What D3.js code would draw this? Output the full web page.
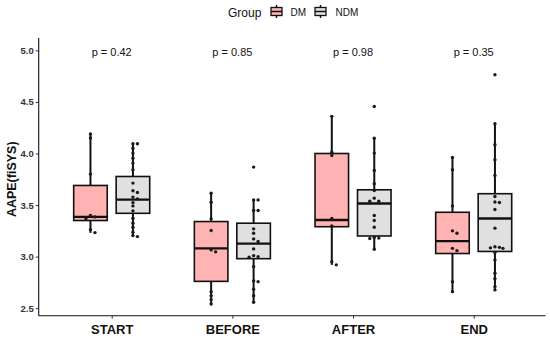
<!DOCTYPE html>
<html>
<head>
<meta charset="utf-8">
<script src="https://cdn.jsdelivr.net/npm/d3@7"></script>
<style>
  body { margin: 0; background: #fff; }
  text { font-family: "Liberation Sans", Arial, sans-serif; }
</style>
</head>
<body>
<div id="chart"></div>
<script>
// values
const phases = ['START', 'BEFORE', 'AFTER', 'END']
const groups = ['DM', 'NDM']
const pValues = ['p = 0.42', 'p = 0.85', 'p = 0.98', 'p = 0.35']
const yTicks = [2.5, 3.0, 3.5, 4.0, 4.5, 5.0]

// box stats per phase: [whiskerLow, q1, median, q3, whiskerHigh]
const dmStats = [
  [3.23, 3.35, 3.385, 3.69, 4.19],
  [2.54, 2.76, 3.08, 3.34, 3.615],
  [2.92, 3.29, 3.355, 4.0, 4.36],
  [2.66, 3.03, 3.15, 3.43, 3.96]
]
const ndmStats = [
  [3.19, 3.42, 3.553, 3.777, 4.094],
  [2.557, 2.98, 3.126, 3.324, 3.55],
  [3.07, 3.2, 3.515, 3.648, 4.15],
  [2.677, 3.05, 3.369, 3.61, 4.288]
]

const dmPoints = [
  [4.19, 4.15, 3.80, 3.40, 3.385, 3.37, 3.26, 3.233],
  [3.615, 3.528, 3.366, 3.253, 3.065, 3.046, 2.66, 2.62, 2.583, 2.54],
  [4.36, 4.013, 3.98, 3.369, 3.298, 2.951, 2.92],
  [3.961, 3.842, 3.492, 3.25, 3.227, 3.08, 3.058, 2.757, 2.66]
]
const ndmPoints = [
  [4.094, 4.094, 4.052, 4.004, 3.955, 3.907, 3.842, 3.713, 3.638, 3.622, 3.577, 3.56,
   3.524, 3.492, 3.444, 3.373, 3.324, 3.285, 3.237, 3.204, 3.194],
  [3.868, 3.55, 3.55, 3.447, 3.447, 3.269, 3.227, 3.172, 3.146, 3.075, 3.01, 3.0, 2.995,
   2.903, 2.765, 2.757, 2.683, 2.621, 2.557],
  [4.456, 4.149, 4.004, 3.835, 3.706, 3.64, 3.567, 3.538, 3.538, 3.398, 3.35, 3.285,
   3.185, 3.18, 3.175, 3.072],
  [4.764, 4.288, 4.085, 3.94, 3.787, 3.583, 3.53, 3.525, 3.457, 3.276, 3.095, 3.09,
   3.085, 3.08, 3.04, 2.968, 2.839, 2.786, 2.709, 2.677]
]

const fills = { DM: '#ffb3b3', NDM: '#e0e0e0' }

const width = 550, height = 342

const svg = d3.select('#chart').append('svg')
  .attr('width', width)
  .attr('height', height)

const x = d3.scalePoint()
  .domain(phases)
  .range([111.7, 473.7])

const y = d3.scaleLinear()
  .domain([2.427, 5.12])
  .range([315.7, 38])

const step = x.step()
const dodge = step * 0.176
const boxW = step * 0.278

const panelLeft = 38.7, panelRight = 545.5

// p values
svg.selectAll('.pval')
  .data(phases)
  .enter().append('text')
  .attr('x', d => x(d))
  .attr('y', 56)
  .attr('text-anchor', 'middle')
  .style('font-size', '11px')
  .attr('fill', '#111')
  .text((d, i) => pValues[i])

const drawGroup = (g, stats, points, off) => {
  phases.forEach((p, i) => {
    const cx = x(p) + off
    const s = stats[i]
    const grp = svg.append('g')
    grp.append('line')
      .attr('x1', cx).attr('x2', cx)
      .attr('y1', y(s[0])).attr('y2', y(s[4]))
      .attr('stroke', '#111').attr('stroke-width', 2)
    grp.append('rect')
      .attr('x', cx - boxW / 2)
      .attr('y', y(s[3]))
      .attr('width', boxW)
      .attr('height', y(s[1]) - y(s[3]))
      .attr('fill', fills[g])
      .attr('stroke', '#111')
      .attr('stroke-width', 1.6)
    grp.append('line')
      .attr('x1', cx - boxW / 2).attr('x2', cx + boxW / 2)
      .attr('y1', y(s[2])).attr('y2', y(s[2]))
      .attr('stroke', '#111').attr('stroke-width', 2.4)

    // nudge points that would overlap
    const placed = []
    points[i].forEach(v => {
      const py = y(v)
      let dx = 0
      const near = placed.filter(q => Math.abs(q.y - py) < 3.2)
      if (near.length) dx = [4.5, -4.5, 8][Math.min(near.length - 1, 2)]
      placed.push({ x: cx + dx, y: py })
    })
    grp.selectAll('circle')
      .data(placed)
      .enter().append('circle')
      .attr('cx', d => d.x)
      .attr('cy', d => d.y)
      .attr('r', 1.7)
      .attr('fill', '#1a1a1a')
  })
}

drawGroup('DM', dmStats, dmPoints, -dodge)
drawGroup('NDM', ndmStats, ndmPoints, dodge)

// y axis
const yAxis = svg.append('g')
  .attr('transform', `translate(${panelLeft},0)`)
  .call(d3.axisLeft(y).tickValues(yTicks).tickFormat(d3.format('.1f')).tickSize(3).tickPadding(2))
yAxis.select('.domain').remove()
yAxis.selectAll('.tick line').attr('stroke', '#333').attr('stroke-width', 1)
yAxis.selectAll('.tick text')
  .style('font-size', '9.5px')
  .style('font-weight', 'bold')
  .style('font-family', '"Liberation Sans", Arial, sans-serif')
  .attr('fill', '#333')
svg.append('line')
  .attr('x1', panelLeft).attr('x2', panelLeft)
  .attr('y1', y.range()[1]).attr('y2', y.range()[0])
  .attr('stroke', '#111').attr('stroke-width', 1.1)

// x axis
const xAxis = svg.append('g')
  .attr('transform', `translate(0,${y.range()[0]})`)
  .call(d3.axisBottom(x).tickSize(3).tickPadding(6))
xAxis.select('.domain').remove()
xAxis.selectAll('.tick line').attr('stroke', '#333')
xAxis.selectAll('.tick text')
  .style('font-size', '13px')
  .style('font-weight', 'bold')
  .style('font-family', '"Liberation Sans", Arial, sans-serif')
  .attr('fill', '#111')
svg.append('line')
  .attr('x1', panelLeft).attr('x2', panelRight)
  .attr('y1', y.range()[0]).attr('y2', y.range()[0])
  .attr('stroke', '#111').attr('stroke-width', 1.1)

// y label
svg.append('text')
  .attr('transform', `translate(15.5,${(y(5.0) + y(2.5)) / 2}) rotate(-90)`)
  .attr('text-anchor', 'middle')
  .style('font-size', '12.5px')
  .style('font-weight', 'bold')
  .attr('fill', '#111')
  .text('AAPE(fiSYS)')

// legend
const legend = svg.append('g')
legend.append('text')
  .attr('x', 228).attr('y', 16.5)
  .style('font-size', '12px')
  .attr('fill', '#111')
  .text('Group')
const keyX = [270, 314]
const labX = [290.5, 335.5]
groups.forEach((g, i) => {
  const k = legend.append('g').attr('transform', `translate(${keyX[i]},4)`)
  k.append('line').attr('x1', 6.5).attr('x2', 6.5).attr('y1', 1).attr('y2', 14)
    .attr('stroke', '#111').attr('stroke-width', 1.5)
  k.append('rect').attr('x', 1).attr('y', 3.5).attr('width', 11).attr('height', 8)
    .attr('fill', fills[g]).attr('stroke', '#111').attr('stroke-width', 1.3)
  k.append('line').attr('x1', 1).attr('x2', 12).attr('y1', 7.5).attr('y2', 7.5)
    .attr('stroke', '#111').attr('stroke-width', 1.5)
  legend.append('text')
    .attr('x', labX[i]).attr('y', 16)
    .style('font-size', '10px')
    .attr('fill', '#111')
    .text(g)
})
</script>
</body>
</html>
